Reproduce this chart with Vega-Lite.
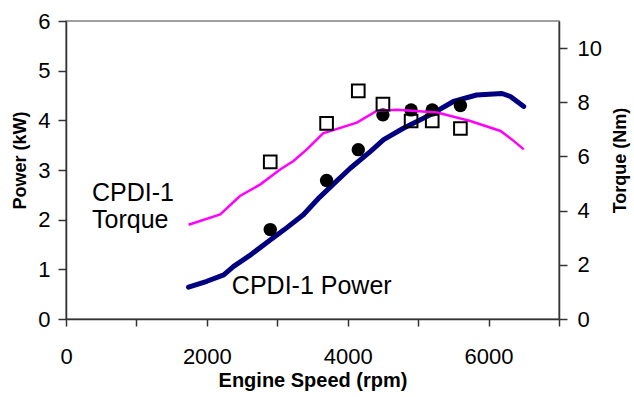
{
  "$schema": "https://vega.github.io/schema/vega-lite/v6.json",
  "width": 493,
  "height": 298,
  "autosize": {"type": "none"},
  "padding": {"left": 66, "top": 21, "right": 75, "bottom": 78},
  "background": "white",
  "config": {
    "font": "Liberation Sans",
    "view": {"stroke": "#808080", "strokeWidth": 1.5},
    "axis": {
      "grid": false,
      "domainColor": "#333333",
      "domainWidth": 1.5,
      "tickColor": "#333333",
      "tickWidth": 1.5,
      "labelFont": "Liberation Sans",
      "labelColor": "#000000",
      "labelFontSize": 22,
      "titleFont": "Liberation Sans",
      "titleColor": "#000000",
      "titleFontWeight": "bold"
    }
  },
  "datasets": {
    "power_curve": [
      {"rpm": 1740, "power": 0.64},
      {"rpm": 2000, "power": 0.76},
      {"rpm": 2240, "power": 0.89},
      {"rpm": 2380, "power": 1.06},
      {"rpm": 2600, "power": 1.27},
      {"rpm": 2900, "power": 1.59},
      {"rpm": 3100, "power": 1.8},
      {"rpm": 3370, "power": 2.1},
      {"rpm": 3600, "power": 2.45},
      {"rpm": 3800, "power": 2.72},
      {"rpm": 4040, "power": 3.04},
      {"rpm": 4320, "power": 3.37},
      {"rpm": 4510, "power": 3.61},
      {"rpm": 4790, "power": 3.84},
      {"rpm": 5170, "power": 4.11},
      {"rpm": 5500, "power": 4.38},
      {"rpm": 5830, "power": 4.51},
      {"rpm": 6190, "power": 4.54},
      {"rpm": 6310, "power": 4.48},
      {"rpm": 6500, "power": 4.28}
    ],
    "torque_curve": [
      {"rpm": 1740, "torque": 3.48},
      {"rpm": 2190, "torque": 3.86},
      {"rpm": 2470, "torque": 4.54},
      {"rpm": 2760, "torque": 4.97},
      {"rpm": 3040, "torque": 5.52},
      {"rpm": 3230, "torque": 5.83},
      {"rpm": 3420, "torque": 6.26},
      {"rpm": 3650, "torque": 6.85},
      {"rpm": 4130, "torque": 7.25},
      {"rpm": 4410, "torque": 7.68},
      {"rpm": 4700, "torque": 7.72},
      {"rpm": 5270, "torque": 7.62},
      {"rpm": 5740, "torque": 7.31},
      {"rpm": 6170, "torque": 6.94},
      {"rpm": 6330, "torque": 6.63},
      {"rpm": 6500, "torque": 6.26}
    ],
    "measured": [
      {"rpm": 2900, "power": 1.8, "torque": 5.8},
      {"rpm": 3700, "power": 2.79, "torque": 7.22},
      {"rpm": 4150, "power": 3.41, "torque": 8.42},
      {"rpm": 4500, "power": 4.11, "torque": 7.93},
      {"rpm": 4900, "power": 4.21, "torque": 7.31},
      {"rpm": 5200, "power": 4.21, "torque": 7.31},
      {"rpm": 5600, "power": 4.3, "torque": 7.03}
    ],
    "labels": [
      {"rpm": 370, "power": 2.385, "text": ["CPDI-1", "Torque"]},
      {"rpm": 2355, "power": 0.51, "text": ["CPDI-1 Power"]}
    ]
  },
  "encoding": {
    "x": {
      "field": "rpm",
      "type": "quantitative",
      "scale": {"domain": [0, 7000], "nice": false},
      "axis": {
        "title": "Engine Speed (rpm)",
        "titleFontSize": 20,
        "titlePadding": 3,
        "values": [0, 1000, 2000, 3000, 4000, 5000, 6000, 7000],
        "labelExpr": "datum.value % 2000 === 0 ? datum.value : ''",
        "tickSize": 7,
        "labelPadding": 20,
        "labelFlush": false
      }
    }
  },
  "layer": [
    {
      "encoding": {
        "y": {
          "field": "power",
          "type": "quantitative",
          "scale": {"domain": [0, 6], "nice": false},
          "axis": {
            "title": "Power (kW)",
            "titleFontSize": 18,
            "titlePadding": 8,
            "titleY": 139,
            "orient": "left",
            "values": [0, 1, 2, 3, 4, 5, 6],
            "tickSize": 8,
            "labelPadding": 8
          }
        }
      },
      "layer": [
        {
          "data": {"name": "power_curve"},
          "mark": {"type": "line", "color": "#000080", "strokeWidth": 5, "strokeCap": "round", "strokeJoin": "round"}
        },
        {
          "data": {"name": "measured"},
          "mark": {"type": "point", "shape": "circle", "filled": true, "color": "#000000", "size": 180, "opacity": 1}
        },
        {
          "data": {"name": "labels"},
          "mark": {"type": "text", "align": "left", "baseline": "alphabetic", "fontSize": 25, "lineHeight": 27, "color": "#000000", "font": "Liberation Sans"},
          "encoding": {"text": {"field": "text"}}
        }
      ]
    },
    {
      "encoding": {
        "y": {
          "field": "torque",
          "type": "quantitative",
          "scale": {"domain": [0, 11], "nice": false},
          "axis": {
            "title": "Torque (Nm)",
            "titleFontSize": 18,
            "titleAngle": 270,
            "titlePadding": 28,
            "titleY": 139,
            "orient": "right",
            "values": [0, 2, 4, 6, 8, 10],
            "tickSize": 8,
            "labelPadding": 10
          }
        }
      },
      "layer": [
        {
          "data": {"name": "torque_curve"},
          "mark": {"type": "line", "color": "#FF00FF", "strokeWidth": 2.5}
        },
        {
          "data": {"name": "measured"},
          "mark": {"type": "point", "shape": "square", "filled": false, "color": "#000000", "strokeWidth": 2, "size": 160, "opacity": 1}
        }
      ]
    }
  ],
  "resolve": {"scale": {"y": "independent"}}
}
